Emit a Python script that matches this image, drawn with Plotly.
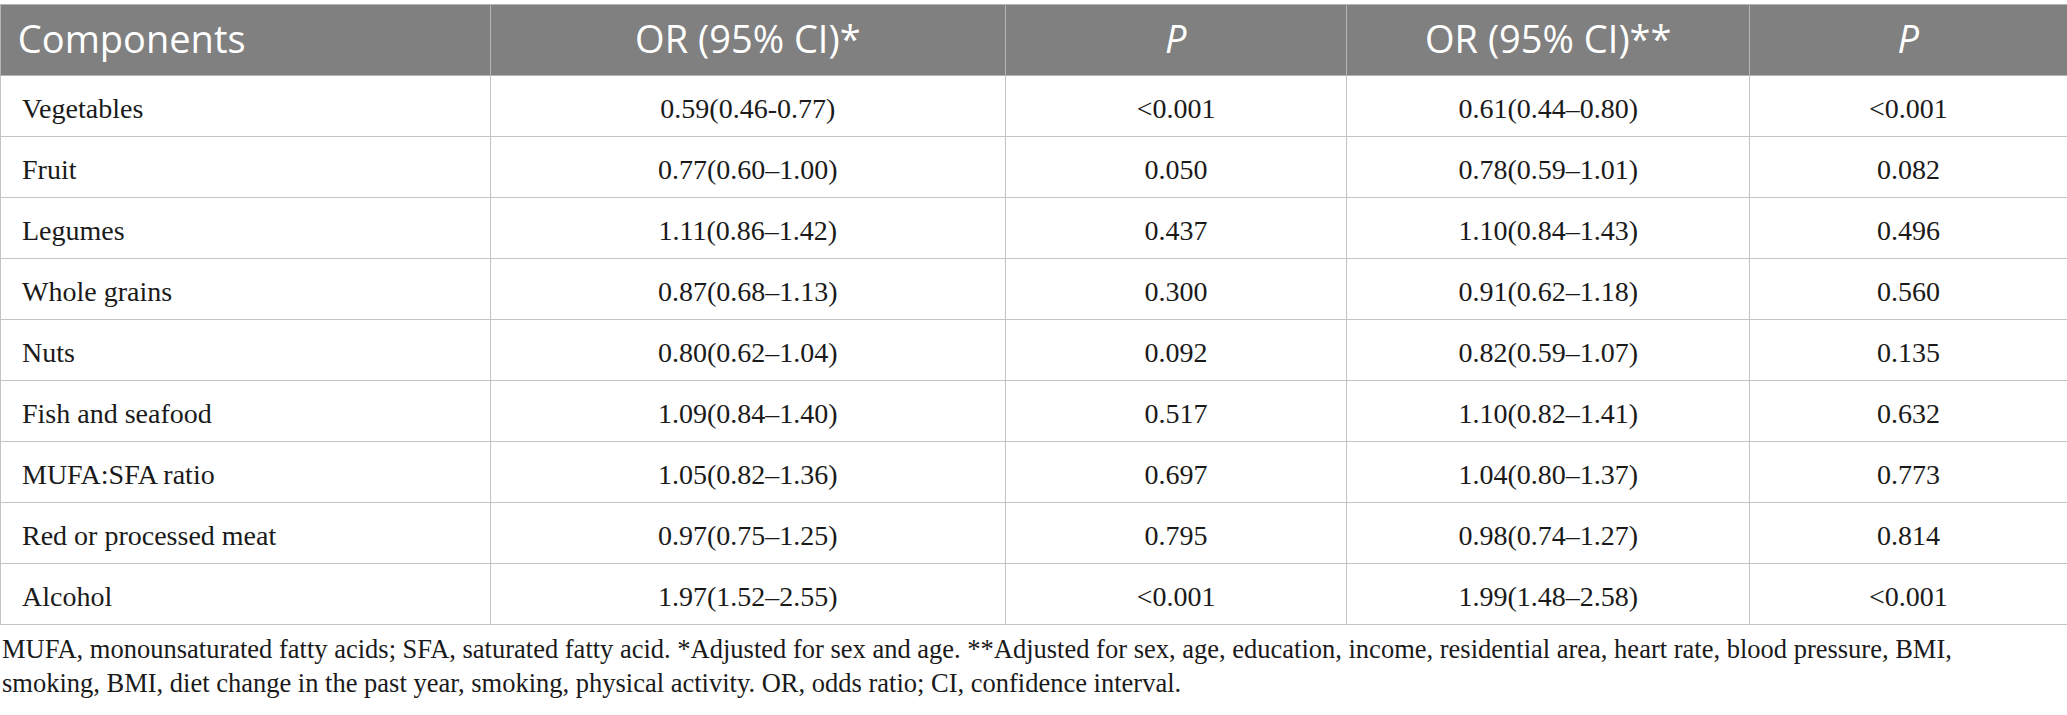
import plotly.graph_objects as go

headers = ["Components", "OR (95% CI)*", "<i>P</i>", "OR (95% CI)**", "<i>P</i>"]

components = ["Vegetables", "Fruit", "Legumes", "Whole grains", "Nuts",
              "Fish and seafood", "MUFA:SFA ratio", "Red or processed meat", "Alcohol"]
or_model1 = ["0.59(0.46-0.77)", "0.77(0.60–1.00)", "1.11(0.86–1.42)", "0.87(0.68–1.13)",
             "0.80(0.62–1.04)", "1.09(0.84–1.40)", "1.05(0.82–1.36)", "0.97(0.75–1.25)",
             "1.97(1.52–2.55)"]
p_model1 = ["<0.001", "0.050", "0.437", "0.300", "0.092", "0.517", "0.697", "0.795", "<0.001"]
or_model2 = ["0.61(0.44–0.80)", "0.78(0.59–1.01)", "1.10(0.84–1.43)", "0.91(0.62–1.18)",
             "0.82(0.59–1.07)", "1.10(0.82–1.41)", "1.04(0.80–1.37)", "0.98(0.74–1.27)",
             "1.99(1.48–2.58)"]
p_model2 = ["<0.001", "0.082", "0.496", "0.560", "0.135", "0.632", "0.773", "0.814", "<0.001"]

footnote = ("MUFA, monounsaturated fatty acids; SFA, saturated fatty acid. *Adjusted for sex and age. "
            "**Adjusted for sex, age, education, income, residential area, heart rate, blood pressure, BMI,<br>"
            "smoking, BMI, diet change in the past year, smoking, physical activity. OR, odds ratio; CI, confidence interval.")

body_size = 28
head_size = 38


def cell(v, size):
    # plotly tables have no valign: put a small blank first line above the
    # real text so it sits in the middle of the taller rows
    v = v.replace("<0", "&lt;0")
    return '\u00a0<br><span style="font-size:%dpx">%s</span>' % (size, v)


pad = "\u00a0\u00a0"

fig = go.Figure(go.Table(
    domain=dict(x=[0, 1], y=[0, 1 - 4 / 715]),
    columnwidth=[490, 515, 341, 403, 317],
    header=dict(
        values=[cell("\u00a0" + headers[0], head_size)] + [cell(h, head_size) for h in headers[1:]],
        fill_color="#808080",
        line_color="#b4b4b4",
        align=["left", "center", "center", "center", "center"],
        font=dict(family="Open Sans", size=17, color="white"),
        height=71,
    ),
    cells=dict(
        values=[[cell(pad + c, body_size) for c in components],
                [cell(v, body_size) for v in or_model1], [cell(v, body_size) for v in p_model1],
                [cell(v, body_size) for v in or_model2], [cell(v, body_size) for v in p_model2]],
        fill_color="white",
        line_color="#c4c4c4",
        align=["left", "center", "center", "center", "center"],
        font=dict(family="Liberation Serif", size=16, color="#1a1a1a"),
        height=61,
    ),
))

fig.add_annotation(
    text=footnote, xref="paper", yref="paper", x=0, y=1 - 632 / 715,
    xanchor="left", yanchor="top", align="left", showarrow=False,
    font=dict(family="Liberation Serif", size=26.5, color="#1a1a1a"),
)

fig.update_layout(width=2067, height=715, margin=dict(l=0, r=0, t=0, b=0),
                  paper_bgcolor="white")

fig.write_html("out.html", config={"displayModeBar": False},
               post_script="document.body.style.margin='0px';")
